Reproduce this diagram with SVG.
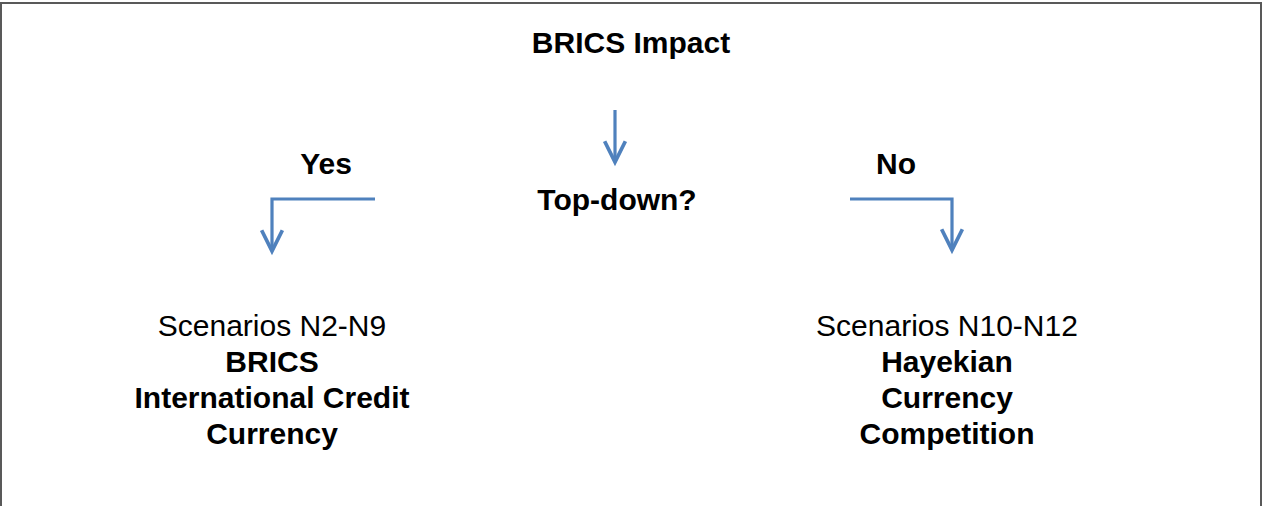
<svg xmlns="http://www.w3.org/2000/svg" width="1262" height="506" viewBox="0 0 1262 506">
<style>
text{font-family:"Liberation Sans",Arial,sans-serif;font-size:30px;fill:#000;text-anchor:middle}
.b{font-weight:bold}
.arrow{fill:none;stroke:#4F81BD;stroke-width:3.2;stroke-linejoin:miter}
</style>
<defs>
<marker id="chev" markerUnits="userSpaceOnUse" markerWidth="30" markerHeight="30" viewBox="-22 -12 26 24" refX="0" refY="0" orient="auto">
<path d="M-18,-9 L0,0 L-18,9" fill="none" stroke="#4F81BD" stroke-width="3.2"/>
</marker>
</defs>
<rect x="1" y="3" width="1260" height="600" fill="#fff" stroke="#595959" stroke-width="2"/>
<g id="connectors">
<path class="arrow" d="M615,110 V162" marker-end="url(#chev)"/>
<path class="arrow" d="M375,199 H272 V251" marker-end="url(#chev)"/>
<path class="arrow" d="M850,199 H952 V250" marker-end="url(#chev)"/>
</g>
<g id="title"><text class="b" x="631" y="53">BRICS Impact</text></g>
<g id="question"><text class="b" x="617" y="210">Top-down?</text></g>
<g id="yes-label"><text class="b" x="326" y="174">Yes</text></g>
<g id="no-label"><text class="b" x="896" y="174">No</text></g>
<g id="left-node">
<text x="272" y="336">Scenarios N2-N9</text>
<text class="b" x="272" y="372">BRICS</text>
<text class="b" x="272" y="408">International Credit</text>
<text class="b" x="272" y="444">Currency</text>
</g>
<g id="right-node">
<text x="947" y="336">Scenarios N10-N12</text>
<text class="b" x="947" y="372">Hayekian</text>
<text class="b" x="947" y="408">Currency</text>
<text class="b" x="947" y="444">Competition</text>
</g>
</svg>
